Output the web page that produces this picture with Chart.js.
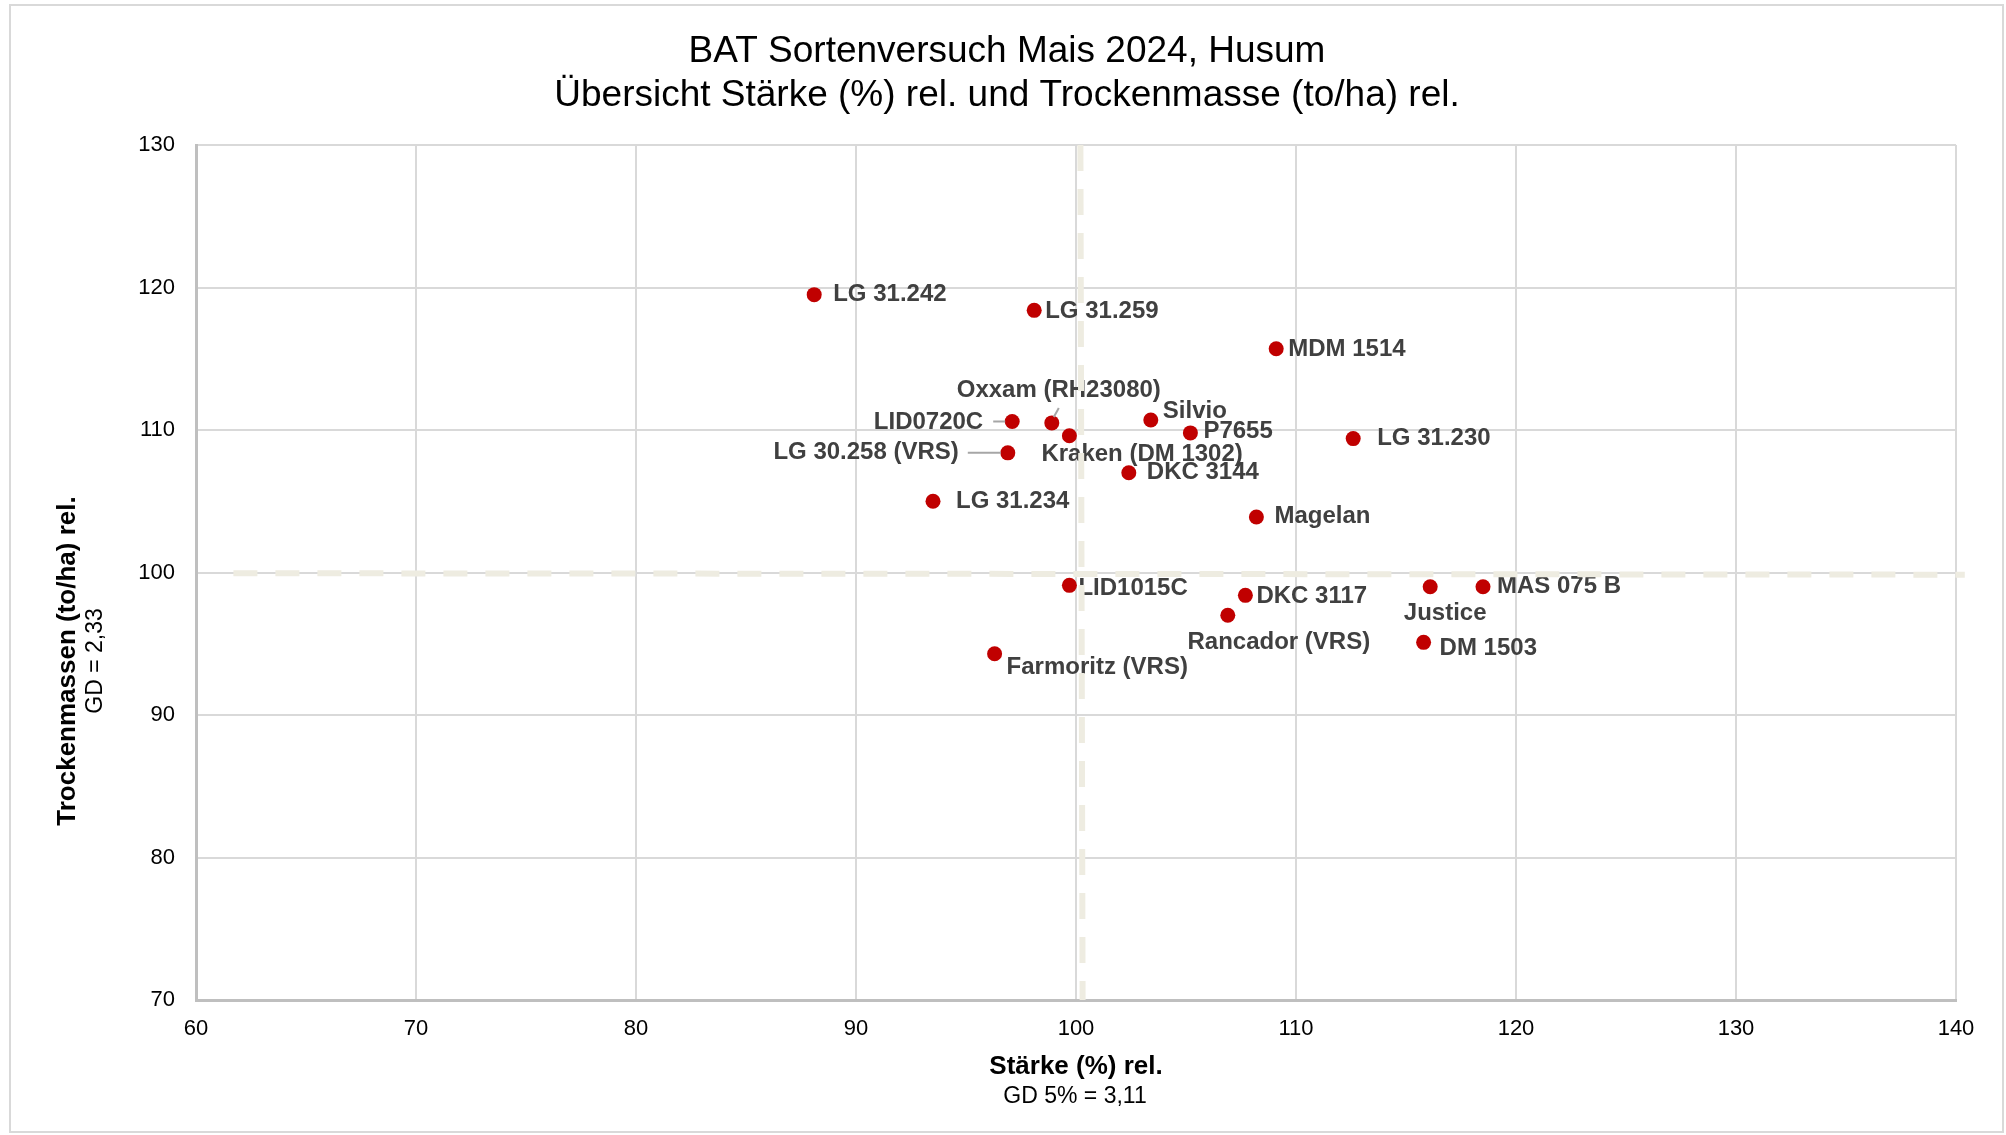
<!DOCTYPE html>
<html>
<head>
<meta charset="utf-8">
<script src="https://cdn.jsdelivr.net/npm/chart.js@4.4.1/dist/chart.umd.min.js"></script>
<style>
  html, body { margin: 0; padding: 0; background: #fff; }
  #wrap { width: 2006px; height: 1135px; }
</style>
</head>
<body>
<div id="wrap"><canvas id="chart" width="2006" height="1135"></canvas></div>
<script>
// Sorten und Werte (relativ)
const sorten = ['LG 31.242', 'LG 31.259', 'MDM 1514', 'Oxxam (RH23080)', 'LID0720C',
  'Kraken (DM 1302)', 'Silvio', 'P7655', 'LG 31.230', 'LG 30.258 (VRS)', 'DKC 3144',
  'LG 31.234', 'Magelan', 'LID1015C', 'DKC 3117', 'Justice', 'MAS 075 B',
  'Rancador (VRS)', 'DM 1503', 'Farmoritz (VRS)'];
const staerke = [88.1, 98.1, 109.1, 98.9, 97.1, 99.7, 103.4, 105.2, 112.6, 96.9, 102.4,
  93.5, 108.2, 99.7, 107.7, 116.1, 118.5, 106.9, 115.8, 96.3];
const trockenmasse = [119.5, 118.4, 115.7, 110.5, 110.6, 109.6, 110.7, 109.8, 109.4, 108.4, 107.0,
  105.0, 103.9, 99.1, 98.4, 99.0, 99.0, 97.0, 95.1, 94.3];

// Bezugslinien (100 %)
const refVx = [100.2, 100.3];
const refVy = [130, 70];
const refHx = [61.7, 140.4];
const refHy = [99.95, 99.85];

const xTicks = [60, 70, 80, 90, 100, 110, 120, 130, 140];
const yTicks = [70, 80, 90, 100, 110, 120, 130];

// label placement: [dx, dy, align] in px relative to the point
const labelPos = [
  [19, 0, 'left'], [11, 1, 'left'], [12, 1, 'left'], [7, -33, 'center'], [-29, 1, 'right'],
  [-28, 19, 'left'], [12, -9, 'left'], [13, -2, 'left'], [24, 0, 'left'], [-49, 0, 'right'],
  [18, 0, 'left'], [23, 0, 'left'], [18, -1, 'left'], [9, 3, 'left'], [11, 1, 'left'],
  [15, 27, 'center'], [14, 0, 'left'], [51, 27, 'center'], [16, 6, 'left'], [12, 14, 'left']
];
// leader lines: index -> [x1, y1, x2, y2] relative to point
const leaders = {
  3: [7, -15, 2, -6],
  4: [-19, 0, -7, 0],
  9: [-40, 0, -7, 0]
};

const FONT = '"Liberation Sans", Arial, sans-serif';

const pointLabels = {
  id: 'pointLabels',
  afterDatasetDraw(chart, args) {
    if (args.index !== 0) return;
    const ctx = chart.ctx;
    const meta = chart.getDatasetMeta(0);
    ctx.save();
    ctx.strokeStyle = '#a6a6a6';
    ctx.lineWidth = 2;
    Object.keys(leaders).forEach(k => {
      const p = meta.data[k];
      const l = leaders[k];
      ctx.beginPath();
      ctx.moveTo(p.x + l[0], p.y + l[1]);
      ctx.lineTo(p.x + l[2], p.y + l[3]);
      ctx.stroke();
    });
    ctx.font = 'bold 24px ' + FONT;
    ctx.fillStyle = '#404040';
    ctx.textBaseline = 'middle';
    meta.data.forEach((p, i) => {
      const [dx, dy, align] = labelPos[i];
      ctx.textAlign = align;
      ctx.fillText(sorten[i], p.x + dx, p.y + dy);
    });
    ctx.restore();
  }
};

const axisTitles = {
  id: 'axisTitles',
  beforeDraw(chart) {
    const ctx = chart.ctx;
    ctx.save();
    ctx.strokeStyle = '#d9d9d9';
    ctx.lineWidth = 2;
    ctx.strokeRect(10, 5, 1993, 1127);
    ctx.restore();
  },
  afterDraw(chart) {
    const ctx = chart.ctx;
    ctx.save();
    ctx.fillStyle = '#000';
    ctx.textAlign = 'center';
    ctx.textBaseline = 'middle';
    ctx.font = 'bold 26px ' + FONT;
    ctx.fillText('Stärke (%) rel.', 1076, 1067);
    ctx.font = '23px ' + FONT;
    ctx.fillText('GD 5% = 3,11', 1075, 1097);
    ctx.translate(68, 661);
    ctx.rotate(-Math.PI / 2);
    ctx.font = 'bold 26px ' + FONT;
    ctx.fillText('Trockenmassen (to/ha) rel.', 0, 0);
    ctx.font = '23px ' + FONT;
    ctx.fillText('GD = 2,33', 0, 28);
    ctx.restore();
  }
};

new Chart(document.getElementById('chart'), {
  type: 'scatter',
  data: {
    datasets: [{
      label: 'Sorten',
      data: staerke.map((x, i) => ({ x: x, y: trockenmasse[i] })),
      backgroundColor: '#c00000',
      borderWidth: 0,
      pointRadius: 7.5,
      pointHoverRadius: 7.5,
      order: 2
    }, {
      type: 'line',
      label: 'Stärke 100',
      data: refVx.map((x, i) => ({ x: x, y: refVy[i] })),
      borderColor: '#eeece1',
      borderWidth: 6,
      borderDash: [26, 18],
      pointRadius: 0,
      clip: false,
      order: 1
    }, {
      type: 'line',
      label: 'TM 100',
      data: refHx.map((x, i) => ({ x: x, y: refHy[i] })),
      borderColor: '#eeece1',
      borderWidth: 6,
      borderDash: [24, 18],
      pointRadius: 0,
      clip: false,
      order: 1
    }]
  },
  options: {
    responsive: false,
    animation: false,
    layout: { padding: { left: 58, right: 50, top: 0, bottom: 95 } },
    plugins: {
      legend: { display: false },
      tooltip: { enabled: false },
      title: {
        display: true,
        text: ['BAT Sortenversuch Mais 2024, Husum', 'Übersicht Stärke (%) rel. und Trockenmasse (to/ha) rel.'],
        color: '#000',
        font: { family: FONT, size: 37, weight: 'normal', lineHeight: 1.19 },
        padding: { top: 29.5, bottom: 27.5 }
      }
    },
    scales: {
      x: {
        type: 'linear',
        min: 60,
        max: 140,
        afterFit: s => { s.height = 40; },
        afterBuildTicks: s => { s.ticks = xTicks.map(v => ({ value: v })); },
        ticks: { color: '#000', padding: 16, font: { family: FONT, size: 22 } },
        grid: { color: '#d9d9d9', lineWidth: 2, drawTicks: false },
        border: { color: '#bfbfbf', width: 3 }
      },
      y: {
        type: 'linear',
        min: 70,
        max: 130,
        afterFit: s => { s.width = 138; },
        afterBuildTicks: s => { s.ticks = yTicks.map(v => ({ value: v })); },
        ticks: { color: '#000', padding: 21, font: { family: FONT, size: 22 } },
        grid: { color: '#d9d9d9', lineWidth: 2, drawTicks: false },
        border: { color: '#bfbfbf', width: 3 }
      }
    }
  },
  plugins: [pointLabels, axisTitles]
});
</script>
</body>
</html>
